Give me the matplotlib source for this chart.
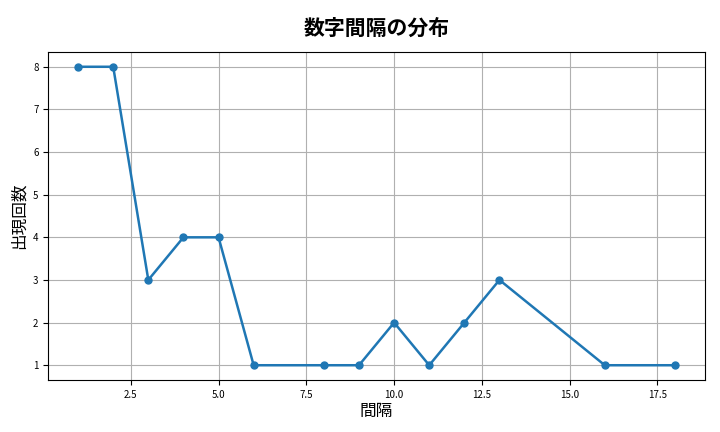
import matplotlib
matplotlib.use('Agg')
import matplotlib.pyplot as plt

plt.rcParams['font.family'] = ['Noto Sans CJK JP', 'DejaVu Sans']

# gap between numbers and how often it appeared
gaps = [1, 2, 3, 4, 5, 6, 8, 9, 10, 11, 12, 13, 16, 18]
counts = [8, 8, 3, 4, 4, 1, 1, 1, 2, 1, 2, 3, 1, 1]

fig, ax = plt.subplots(figsize=(7.2, 4.32), dpi=100)
ax.plot(gaps, counts, marker='o', color='#1f77b4', linewidth=1.8, markersize=5)
ax.set_title('数字間隔の分布', fontsize=15, fontweight='bold', pad=12)
ax.set_xlabel('間隔', fontsize=12, labelpad=2)
ax.set_ylabel('出現回数', fontsize=12)
ax.tick_params(labelsize=7)
ax.grid(True)
fig.subplots_adjust(left=0.067, right=0.979, top=0.88, bottom=0.12)
fig.savefig('out.png')
